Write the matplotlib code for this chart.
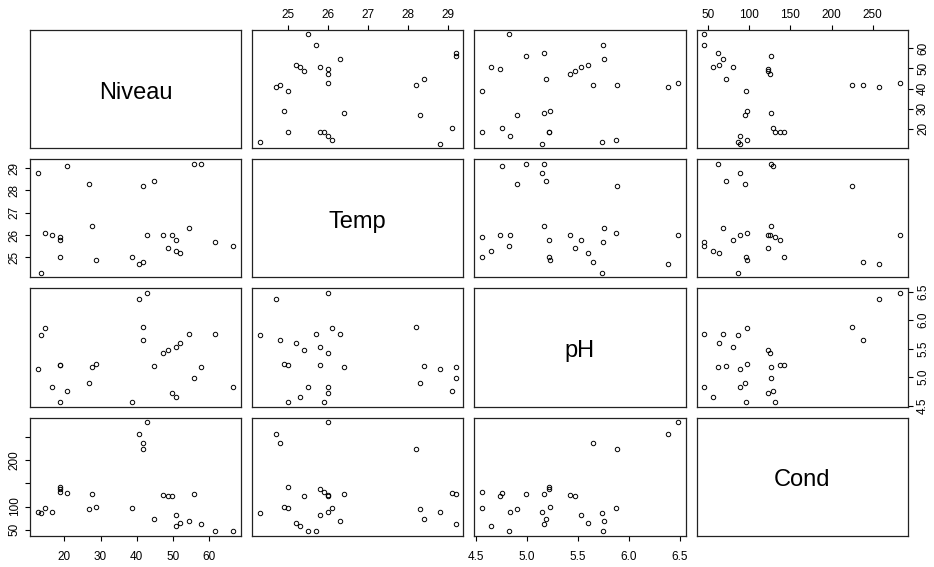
import matplotlib.pyplot as plt

# water samples: level, temperature, pH, conductivity
niveau = [12.6, 13.6, 14.7, 16.6, 18.7, 18.7, 18.7, 20.6, 26.7, 27.7, 28.8, 38.6, 40.7, 41.9,
          41.9, 42.9, 44.7, 47.4, 48.7, 49.8, 50.8, 50.8, 51.9, 54.4, 55.9, 57.8, 61.8, 66.8]
temp = [28.8, 24.3, 26.1, 26.0, 25.0, 25.8, 25.9, 29.1, 28.3, 26.4, 24.9, 25.0, 24.7, 24.8,
        28.2, 26.0, 28.4, 26.0, 25.4, 26.0, 25.8, 25.3, 25.2, 26.3, 29.2, 29.2, 25.7, 25.5]
ph = [5.15, 5.74, 5.87, 4.83, 5.22, 5.22, 4.56, 4.75, 4.90, 5.17, 5.23, 4.56, 6.38, 5.65,
      5.88, 6.48, 5.19, 5.42, 5.47, 4.73, 5.53, 4.65, 5.60, 5.76, 4.99, 5.17, 5.75, 4.82]
cond = [89, 87, 97, 89, 142, 138, 131, 129, 95, 127, 98, 96, 258, 238,
        225, 283, 72, 125, 123, 123, 81, 57, 64, 68, 127, 62, 46, 46]

names = ['Niveau', 'Temp', 'pH', 'Cond']
columns = [niveau, temp, ph, cond]
ticks = [[20, 30, 40, 50, 60],
         [25, 26, 27, 28, 29],
         [4.5, 5.0, 5.5, 6.0, 6.5],
         [50, 100, 150, 200, 250]]
ticklabels = [['20', '30', '40', '50', '60'],
              ['25', '26', '27', '28', '29'],
              ['4.5', '5.0', '5.5', '6.0', '6.5'],
              ['50', '100', '150', '200', '250']]
# some labels get dropped on the short vertical axes
ylabels_cond = ['50', '100', '', '200', '']

plt.rcParams['font.family'] = ['Liberation Sans', 'DejaVu Sans']


def padded(v):
    lo, hi = min(v), max(v)
    r = hi - lo
    return lo - 0.04 * r, hi + 0.04 * r


fig, axes = plt.subplots(4, 4, figsize=(9.34, 5.67), dpi=100)
fig.subplots_adjust(left=0.032, right=0.972, bottom=0.055, top=0.947,
                    wspace=0.052, hspace=0.093)

n = len(names)
for i in range(n):
    for j in range(n):
        ax = axes[i, j]
        ax.set_xlim(padded(columns[j]))
        ax.set_ylim(padded(columns[i]))
        for s in ax.spines.values():
            s.set_linewidth(0.9)
            s.set_color('#222222')
        ax.tick_params(direction='out', length=3.6, width=0.8, labelsize=8.5,
                       bottom=False, top=False, left=False, right=False,
                       labelbottom=False, labeltop=False, labelleft=False, labelright=False)
        ax.set_xticks(ticks[j])
        ax.set_xticklabels(ticklabels[j])
        ax.set_yticks(ticks[i])
        ax.set_yticklabels(ylabels_cond if i == 3 else ticklabels[i])

        if i == j:
            ax.text(0.5, 0.47, names[i], transform=ax.transAxes, fontsize=17,
                    ha='center', va='center')
        else:
            ax.plot(columns[j], columns[i], 'o', mfc='none', mec='black',
                    ms=3.2, mew=0.7)

        # axes alternate sides like a scatterplot matrix
        if i == 0 and j % 2 == 1:
            ax.tick_params(axis='x', top=True, labeltop=True, pad=3)
        if i == n - 1 and j % 2 == 0:
            ax.tick_params(axis='x', bottom=True, labelbottom=True, pad=7)
        if j == 0 and i % 2 == 1:
            ax.tick_params(axis='y', left=True, labelleft=True, pad=3, labelrotation=90)
            for t in ax.get_yticklabels():
                t.set_va('center')
        if j == n - 1 and i % 2 == 0:
            ax.tick_params(axis='y', right=True, labelright=True, pad=3, labelrotation=90)
            for t in ax.get_yticklabels():
                t.set_va('center')

fig.savefig('out.png', dpi=100)
